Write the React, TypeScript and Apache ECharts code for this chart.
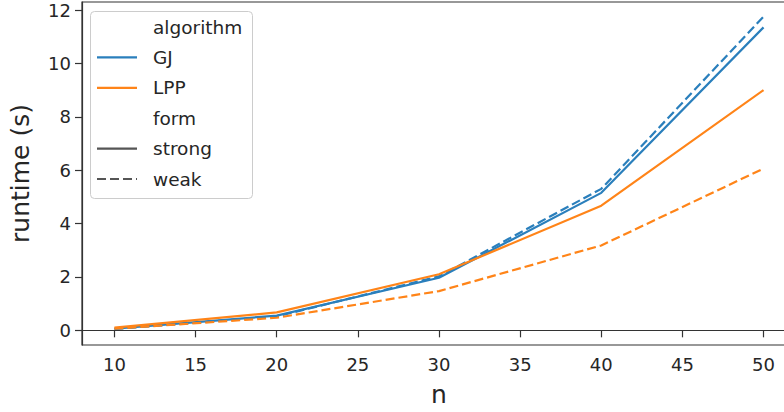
import React, { useEffect, useRef } from "react";
import * as echarts from "echarts";

const nValues = [10, 20, 30, 40, 50];
const gjStrong = [0.06, 0.55, 1.97, 5.15, 11.35];
const gjWeak = [0.05, 0.52, 2.02, 5.3, 11.75];
const lppStrong = [0.1, 0.67, 2.1, 4.67, 9.0];
const lppWeak = [0.06, 0.47, 1.47, 3.18, 6.06];
const xTicks = [10, 15, 20, 25, 30, 35, 40, 45, 50];
const yTicks = [0, 2, 4, 6, 8, 10, 12];

const BLUE = "#2a7fbc";
const ORANGE = "#ff8418";
const GRAY = "#555555";
const TEXT = "#262626";
const FONT = "DejaVu Sans";

const pairs = (ys: number[]) => nValues.map((x, i) => [x, ys[i]]);

export default function App() {
  const ref = useRef<HTMLDivElement>(null);
  useEffect(() => {
    if (!ref.current) return;
    const chart = echarts.init(ref.current, null, { renderer: "svg" });
    const dash = [9, 4];
    const mk = (name: string, ys: number[], color: string, dashed: boolean) => ({
      name,
      type: "line",
      data: pairs(ys),
      showSymbol: false,
      symbol: "none",
      lineStyle: { color, width: 2.2, type: dashed ? dash : "solid" },
      z: 3,
    });
    const legendRows = [
      { label: "algorithm", color: null as string | null, dashed: false },
      { label: "GJ", color: BLUE, dashed: false },
      { label: "LPP", color: ORANGE, dashed: false },
      { label: "form", color: null, dashed: false },
      { label: "strong", color: GRAY, dashed: false },
      { label: "weak", color: GRAY, dashed: true },
    ];
    const legendEls: any[] = [
      {
        type: "rect",
        shape: { x: 90.5, y: 11.5, width: 162, height: 187, r: 4 },
        style: { fill: "rgba(255,255,255,0.8)", stroke: "#cccccc", lineWidth: 1 },
        z: 10,
      },
    ];
    legendRows.forEach((r, i) => {
      const y = 27 + 30.4 * i;
      if (r.color) {
        legendEls.push({
          type: "line",
          shape: { x1: 97, y1: y, x2: 137, y2: y },
          style: { stroke: r.color, lineWidth: 2.2, lineDash: r.dashed ? dash : null },
          z: 11,
        });
      }
      legendEls.push({
        type: "text",
        x: 153,
        y: y,
        style: {
          text: r.label,
          fill: TEXT,
          font: `18.5px "${FONT}"`,
          textVerticalAlign: "middle",
          textAlign: "left",
        },
        z: 11,
      });
    });

    chart.setOption({
      animation: false,
      backgroundColor: "#ffffff",
      grid: {
        left: 81,
        top: 2,
        right: 0,
        bottom: 62,
        show: true,
        borderColor: "#333333",
        borderWidth: 1.2,
        backgroundColor: "transparent",
      },
      xAxis: {
        type: "value",
        min: 8,
        max: 52,
        name: "n",
        nameLocation: "middle",
        nameGap: 37,
        nameTextStyle: { fontSize: 25, color: TEXT, fontFamily: FONT },
        axisLine: { show: true, lineStyle: { color: "#333333", width: 1.2 } },
        axisTick: { show: true, length: 7, lineStyle: { color: "#333333", width: 1.2 }, customValues: xTicks },
        axisLabel: { customValues: xTicks, fontSize: 18, color: TEXT, fontFamily: FONT, margin: 10 },
        splitLine: { show: false },
      },
      yAxis: {
        type: "value",
        min: -0.55,
        max: 12.3,
        name: "runtime (s)",
        nameLocation: "middle",
        nameRotate: 90,
        nameGap: 49,
        nameTextStyle: { fontSize: 25, color: TEXT, fontFamily: FONT },
        axisLine: { show: true, lineStyle: { color: "#333333", width: 1.2 } },
        axisTick: { show: true, length: 7, lineStyle: { color: "#333333", width: 1.2 }, customValues: yTicks },
        axisLabel: { customValues: yTicks, fontSize: 18, color: TEXT, fontFamily: FONT, margin: 11 },
        splitLine: { show: false },
      },
      series: [
        mk("GJ strong", gjStrong, BLUE, false),
        mk("GJ weak", gjWeak, BLUE, true),
        mk("LPP strong", lppStrong, ORANGE, false),
        mk("LPP weak", lppWeak, ORANGE, true),
      ],
      graphic: legendEls,
    });
    return () => chart.dispose();
  }, []);
  return (
    <div style={{ position: "fixed", left: 0, top: 0, width: 784, height: 412, overflow: "hidden" }}>
      <div ref={ref} style={{ position: "absolute", left: 0, top: 0, width: 796, height: 412 }} />
    </div>
  );
}
